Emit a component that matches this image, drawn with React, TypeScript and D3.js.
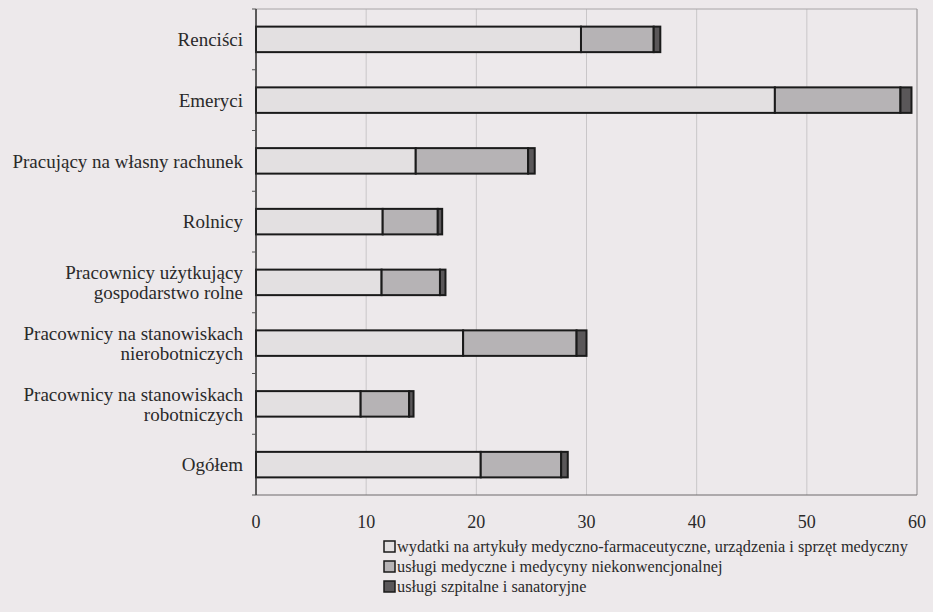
import React, { useEffect, useRef } from "react";
import * as d3 from "d3";

const categories: string[][] = [
  ["Renciści"],
  ["Emeryci"],
  ["Pracujący na własny rachunek"],
  ["Rolnicy"],
  ["Pracownicy użytkujący", "gospodarstwo rolne"],
  ["Pracownicy na stanowiskach", "nierobotniczych"],
  ["Pracownicy na stanowiskach", "robotniczych"],
  ["Ogółem"],
];
const artykuly = [29.5, 47.1, 14.5, 11.5, 11.4, 18.8, 9.5, 20.4];
const uslugiMed = [6.6, 11.4, 10.2, 5.0, 5.3, 10.3, 4.4, 7.3];
const szpitalne = [0.6, 1.0, 0.6, 0.4, 0.5, 0.9, 0.4, 0.6];
const xTicks = [0, 10, 20, 30, 40, 50, 60];
const legendLabels = [
  "wydatki na artykuły medyczno-farmaceutyczne, urządzenia i sprzęt medyczny",
  "usługi medyczne i medycyny niekonwencjonalnej",
  "usługi szpitalne i sanatoryjne",
];
const colors = ["#e3e0e1", "#b6b3b5", "#5a5759"];

const W = 933, H = 612;
const L = 256, R = 917, T = 9, B = 495;
const FONT = "Liberation Serif";

export default function App() {
  const ref = useRef<SVGSVGElement>(null);

  useEffect(() => {
    const svg = d3.select(ref.current!);
    svg.selectAll("*").remove();
    const x = d3.scaleLinear().domain([0, 60]).range([L, R]);
    const idx = categories.map((_, i) => String(i));
    const y = d3.scaleBand().domain(idx).range([T, B]).paddingInner(0.58).paddingOuter(0.29);
    const rows = categories.map((_, i) => ({ a: artykuly[i], b: uslugiMed[i], c: szpitalne[i] }));
    const stack = d3.stack<any>().keys(["a", "b", "c"])(rows);
    const step = (B - T) / categories.length;

    svg.append("rect").attr("x", 0).attr("y", 0).attr("width", W).attr("height", H).attr("fill", "#ede9eb");

    // text first
    const tg = svg.append("g").attr("font-family", FONT).attr("fill", "#2a2a2a");
    categories.forEach((lines, i) => {
      const cy = y(String(i))! + y.bandwidth() / 2;
      const lh = 20;
      const start = cy - ((lines.length - 1) * lh) / 2;
      const t = tg.append("text").attr("text-anchor", "end").attr("font-size", 19).attr("font-family", FONT);
      lines.forEach((ln, j) => {
        t.append("tspan").attr("x", 243).attr("y", start + j * lh).attr("dy", "0.35em").text(ln);
      });
    });
    xTicks.forEach((tk) => {
      tg.append("text").attr("x", x(tk)).attr("y", 522).attr("dy", "0.35em").attr("text-anchor", "middle")
        .attr("font-size", 18).attr("font-family", FONT).text(String(tk));
    });
    legendLabels.forEach((lab, i) => {
      tg.append("text").attr("x", 397).attr("y", 546 + i * 20).attr("dy", "0.35em")
        .attr("font-size", 16.3).attr("font-family", FONT).text(lab);
    });

    const g = svg.append("g");
    xTicks.slice(1, -1).forEach((tk) => {
      g.append("line").attr("x1", x(tk)).attr("x2", x(tk)).attr("y1", T).attr("y2", B).attr("stroke", "#c9c6c8");
    });
    g.append("line").attr("x1", L).attr("x2", R).attr("y1", T).attr("y2", T).attr("stroke", "#a8a5a7");
    g.append("line").attr("x1", R).attr("x2", R).attr("y1", T).attr("y2", B).attr("stroke", "#9c999b").attr("stroke-width", 1.2);
    g.append("line").attr("x1", L).attr("x2", R).attr("y1", B).attr("y2", B).attr("stroke", "#6e6b6d").attr("stroke-width", 1.2);

    stack.forEach((s, si) => {
      g.selectAll(null).data(s).enter().append("rect")
        .attr("x", (d: any) => x(d[0]))
        .attr("y", (_: any, i: number) => y(String(i))!)
        .attr("width", (d: any) => x(d[1]) - x(d[0]))
        .attr("height", y.bandwidth())
        .attr("fill", colors[si])
        .attr("stroke", "#1a1a1a")
        .attr("stroke-width", 2);
    });

    g.append("line").attr("x1", L).attr("x2", L).attr("y1", T).attr("y2", B).attr("stroke", "#2a2a2a").attr("stroke-width", 1.5);
    d3.range(categories.length + 1).forEach((k) => {
      g.append("line").attr("x1", L - 4).attr("x2", L).attr("y1", T + k * step).attr("y2", T + k * step).attr("stroke", "#555");
    });

    legendLabels.forEach((_, i) => {
      g.append("rect").attr("x", 384).attr("y", 546 + i * 20 - 5).attr("width", 11).attr("height", 11)
        .attr("fill", colors[i]).attr("stroke", "#1a1a1a").attr("stroke-width", 1.5);
    });
  }, []);

  return <svg ref={ref} width={W} height={H} style={{ position: "absolute", left: 0, top: 0 }} />;
}
